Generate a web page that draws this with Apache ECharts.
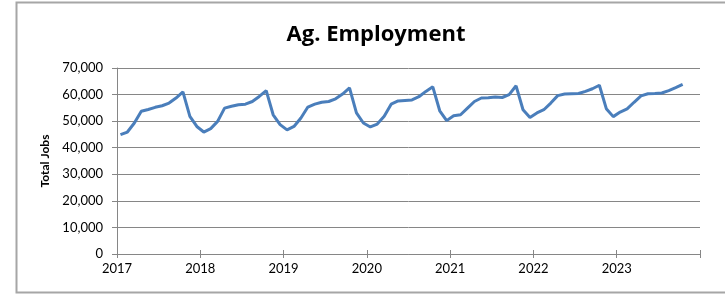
<!DOCTYPE html>
<html>
<head>
<meta charset="utf-8">
<script src="https://cdn.jsdelivr.net/npm/echarts@6/dist/echarts.min.js"></script>
<style>html,body{margin:0;padding:0;background:#fff;}#c{width:725px;height:294px;}</style>
</head>
<body>
<div id="c"></div>
<script>
const title = 'Ag. Employment';
const yAxisName = 'Total Jobs';
const yearLabels = ['2017','2018','2019','2020','2021','2022','2023'];
const jobs = [
  44900, 45900, 49300, 53700, 54400, 55200, 55800, 56800, 58700, 61000, 51800, 48000,
  45900, 47200, 49900, 54900, 55600, 56200, 56400, 57400, 59300, 61500, 52400, 48700,
  46700, 48000, 51200, 55300, 56400, 57100, 57400, 58400, 60200, 62500, 53100, 49300,
  47800, 48900, 51800, 56400, 57600, 57800, 58000, 59200, 61200, 62900, 53900, 50200,
  52000, 52400, 54900, 57400, 58700, 58800, 59100, 58900, 60000, 63300, 54300, 51400,
  53100, 54300, 56800, 59600, 60200, 60300, 60400, 61200, 62200, 63500, 54700, 51700,
  53400, 54600, 57100, 59500, 60300, 60400, 60600, 61500, 62600, 63800
];
const points = jobs.map((v, i) => [i + 0.5, v]);
const chart = echarts.init(document.getElementById('c'), null, {renderer: 'canvas'});
const font = 'Lato, "Open Sans", sans-serif';
const axisGray = '#868686';
chart.setOption({
  animation: false,
  title: {text: title, left: 371, top: 19, textAlign: 'center',
    textStyle: {fontFamily: '"Open Sans", sans-serif', fontWeight: 'bold', fontSize: 22, color: '#000'}},
  graphic: [{type: 'rect', shape: {x: 16.5, y: 2.5, width: 720, height: 290},
    style: {fill: 'none', stroke: '#a6a6a6', lineWidth: 2}, z: -1}],
  grid: {left: 117, right: 25, top: 68, bottom: 40},
  xAxis: [{
    type: 'value', min: 0, max: 84, interval: 12,
    axisLine: {show: true, lineStyle: {color: axisGray}},
    axisTick: {show: true, length: 4, lineStyle: {color: axisGray}},
    splitLine: {show: false},
    axisLabel: {fontFamily: font, fontSize: 13, color: '#000', margin: 8,
      formatter: v => { const k = Math.round(v / 12); return k < yearLabels.length ? yearLabels[k] : ''; }}
  }, {
    type: 'value', min: 0, max: 84, interval: 12, position: 'bottom',
    axisLine: {show: false},
    axisTick: {show: true, inside: true, length: 4, lineStyle: {color: axisGray}},
    axisLabel: {show: false}, splitLine: {show: false}
  }],
  yAxis: {
    type: 'value', min: 0, max: 70000, interval: 10000,
    name: yAxisName, nameLocation: 'middle', nameGap: 66,
    nameTextStyle: {fontFamily: font, fontWeight: 'bold', fontSize: 12, color: '#000'},
    axisLine: {show: true, lineStyle: {color: axisGray}},
    axisTick: {show: true, length: 5, lineStyle: {color: axisGray}},
    splitLine: {show: true, lineStyle: {color: axisGray, width: 1}},
    axisLabel: {fontFamily: font, fontSize: 13, color: '#000', margin: 14,
      formatter: v => v.toLocaleString('en-US')}
  },
  series: [{
    type: 'line', data: points, showSymbol: false, smooth: false,
    lineStyle: {color: '#4a7ebb', width: 3}, itemStyle: {color: '#4a7ebb'}
  }]
});
</script>
</body>
</html>
